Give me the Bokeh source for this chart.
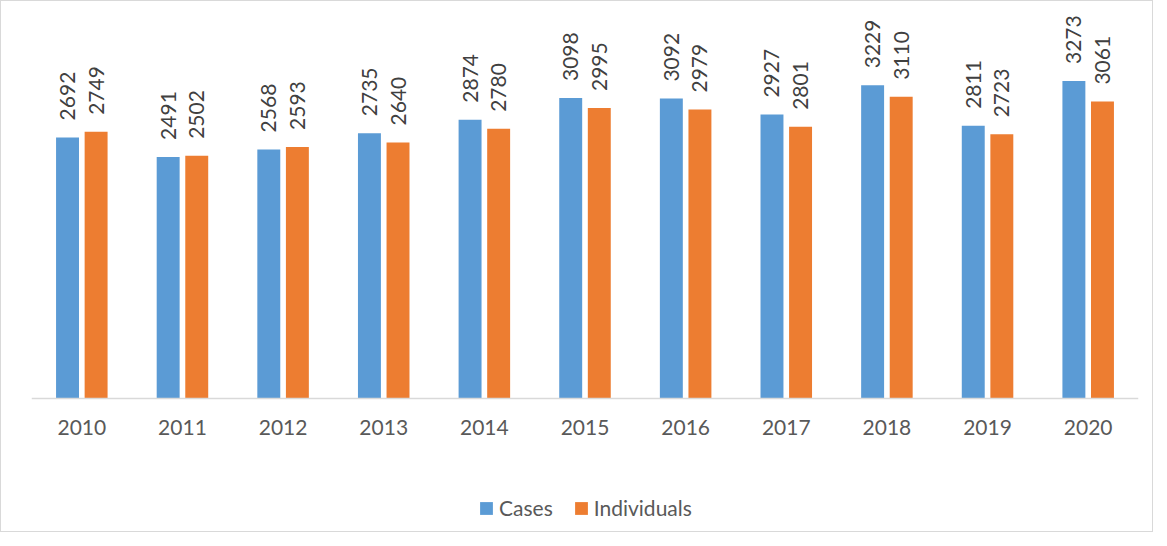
import math
from bokeh.plotting import figure
from bokeh.models import ColumnDataSource, Legend, LegendItem, FactorRange, Range1d
from bokeh.core.properties import value
from bokeh.transform import dodge
from bokeh.embed import file_html
from bokeh.resources import INLINE

years = ["2010", "2011", "2012", "2013", "2014", "2015", "2016", "2017", "2018", "2019", "2020"]
cases = [2692, 2491, 2568, 2735, 2874, 3098, 3092, 2927, 3229, 2811, 3273]
individuals = [2749, 2502, 2593, 2640, 2780, 2995, 2979, 2801, 3110, 2723, 3061]

src = ColumnDataSource(dict(
    year=years, cases=cases, individuals=individuals,
    cases_s=[str(v) for v in cases], ind_s=[str(v) for v in individuals],
))

FONT = "Lato"
BLUE = "#5B9BD5"
ORANGE = "#ED7D31"

p = figure(x_range=FactorRange(*years), y_range=Range1d(-1371, 4000),
           frame_width=1107, frame_height=521, output_backend="svg", toolbar_location=None,
           y_axis_location=None,
           min_border_left=30, min_border_right=14, min_border_top=9, min_border_bottom=0)
p.styles = {"border": "1px solid #d9d9d9", "box-sizing": "border-box"}
p.outline_line_color = None
p.xgrid.grid_line_color = None
p.ygrid.grid_line_color = None

r1 = p.vbar(x=dodge("year", -0.142, range=p.x_range), top="cases", bottom=0, width=0.228,
            source=src, fill_color=BLUE, line_color=None)
r2 = p.vbar(x=dodge("year", 0.142, range=p.x_range), top="individuals", bottom=0, width=0.228,
            source=src, fill_color=ORANGE, line_color=None)

for col, lab, off in [("cases", "cases_s", -0.142), ("individuals", "ind_s", 0.142)]:
    p.text(x=dodge("year", off, range=p.x_range), y=col, text=lab, source=src,
           angle=math.pi / 2, text_align="left", text_baseline="middle",
           y_offset=-17, text_font=value(FONT), text_font_size="21px", text_color="#404040")

ax = p.xaxis[0]
ax.fixed_location = 0
ax.axis_line_color = "#d9d9d9"
ax.axis_line_width = 1.5
ax.major_tick_line_color = None
ax.minor_tick_line_color = None
ax.major_label_text_font = FONT
ax.major_label_text_font_size = "21px"
ax.major_label_text_color = "#595959"
ax.major_label_standoff = 15

legend = Legend(items=[LegendItem(label="Cases", renderers=[r1]),
                       LegendItem(label="Individuals", renderers=[r2])],
                orientation="horizontal", location=(447, 11),
                glyph_width=16, glyph_height=16, label_standoff=5, spacing=20,
                label_text_font=FONT, label_text_font_size="21px", label_text_color="#595959",
                border_line_color=None, background_fill_alpha=0, padding=0, margin=0)
p.add_layout(legend)

open("out.html", "w").write(file_html(p, INLINE))
